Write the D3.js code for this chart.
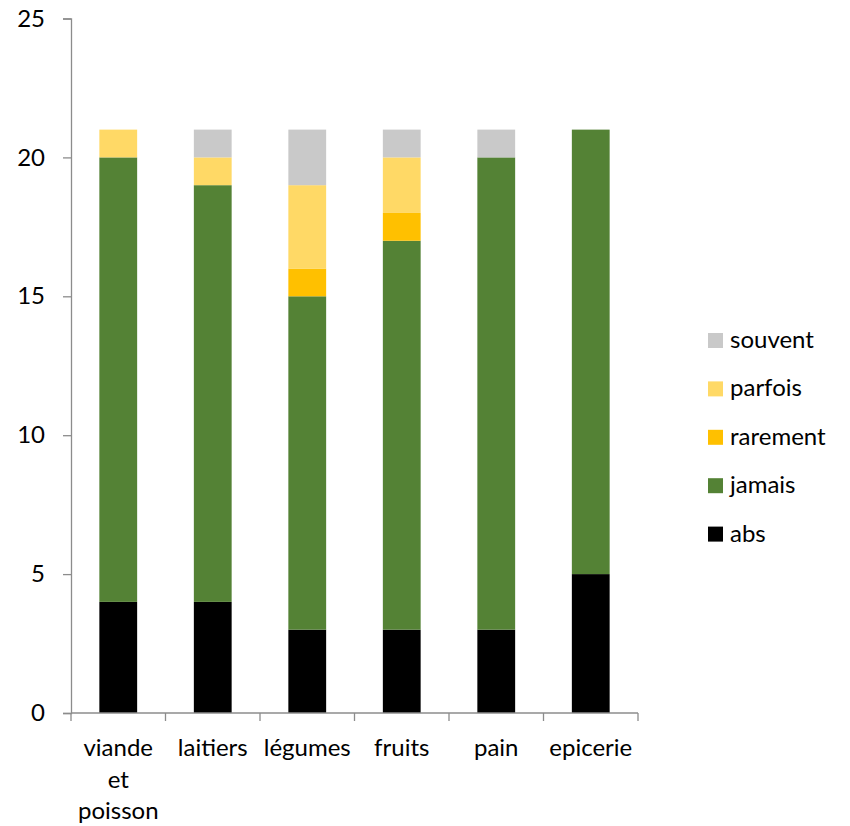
<!DOCTYPE html>
<html><head><meta charset="utf-8">
<script src="https://cdn.jsdelivr.net/npm/d3@7"></script>
<style>body{margin:0;background:#fff}text{font-family:Lato,"Open Sans",sans-serif}</style>
</head><body><svg id="c" width="850" height="826"></svg>
<script>
const categories = ["viande et poisson","laitiers","légumes","fruits","pain","epicerie"];
const seriesNames = ["abs","jamais","rarement","parfois","souvent"];
const abs      = [4,4,3,3,3,5];
const jamais   = [16,15,12,14,17,16];
const rarement = [0,0,1,1,0,0];
const parfois  = [1,1,3,2,0,0];
const souvent  = [0,1,2,1,1,0];
const yTicks = [0,5,10,15,20,25];
const colors = {abs:"#000000",jamais:"#548235",rarement:"#FFC000",parfois:"#FFD966",souvent:"#C9C9C9"};

const values = {abs,jamais,rarement,parfois,souvent};
const table = categories.map((c,i)=>{const o={cat:c};seriesNames.forEach(s=>o[s]=values[s][i]);return o;});
const stack = d3.stack().keys(seriesNames)(table);

const svg = d3.select("#c");
const x = d3.scaleBand().domain(categories).range([71,638]).paddingInner(0.6).paddingOuter(0.3);
const xb = d3.scaleBand().domain(categories).range([71,638]);
const y = d3.scaleLinear().domain([0,25]).range([713,18.5]);

svg.append("g").selectAll("g").data(stack).join("g").attr("fill",d=>colors[d.key])
  .selectAll("rect").data(d=>d).join("rect")
  .attr("x",d=>x(d.data.cat)).attr("width",x.bandwidth())
  .attr("y",d=>y(d[1])).attr("height",d=>y(d[0])-y(d[1]));

// y axis
const ya = svg.append("g").attr("transform","translate(71,0)")
  .call(d3.axisLeft(y).tickValues(yTicks).tickSize(8).tickPadding(18));
ya.select(".domain").attr("stroke","#8c8c8c").attr("stroke-width",1.3);
ya.selectAll(".tick line").attr("stroke","#8c8c8c").attr("stroke-width",1.3);
ya.selectAll(".tick text").attr("font-size",24).attr("fill","#000").attr("font-family","Lato");

// x axis
const xa = svg.append("g").attr("transform","translate(0,713)");
xa.append("line").attr("x1",71).attr("x2",638).attr("stroke","#8c8c8c").attr("stroke-width",1.3);
const bounds = categories.map(c=>xb(c)).concat([638]);
xa.selectAll("line.t").data(bounds).join("line").attr("class","t")
  .attr("x1",d=>d).attr("x2",d=>d).attr("y1",0).attr("y2",8).attr("stroke","#8c8c8c").attr("stroke-width",1.3);
const lines = {"viande et poisson":["viande","et","poisson"]};
xa.selectAll("text").data(categories).join("text")
  .attr("text-anchor","middle").attr("font-size",24).attr("fill","#000")
  .attr("transform",d=>`translate(${xb(d)+xb.bandwidth()/2},43)`)
  .each(function(d){
    const ls = lines[d]||[d];
    d3.select(this).selectAll("tspan").data(ls).join("tspan")
      .attr("x",0).attr("dy",(l,i)=>i===0?0:31.5).text(l=>l);
  });

// legend
const leg = svg.append("g");
const legOrder = ["souvent","parfois","rarement","jamais","abs"];
legOrder.forEach((k,i)=>{
  const yy = 340 + i*48.4;
  leg.append("rect").attr("x",708).attr("y",yy-7).attr("width",15).attr("height",15).attr("fill",colors[k]);
  leg.append("text").attr("x",730).attr("y",yy+8).attr("font-size",24).attr("fill","#000").text(k);
});
</script></body></html>
